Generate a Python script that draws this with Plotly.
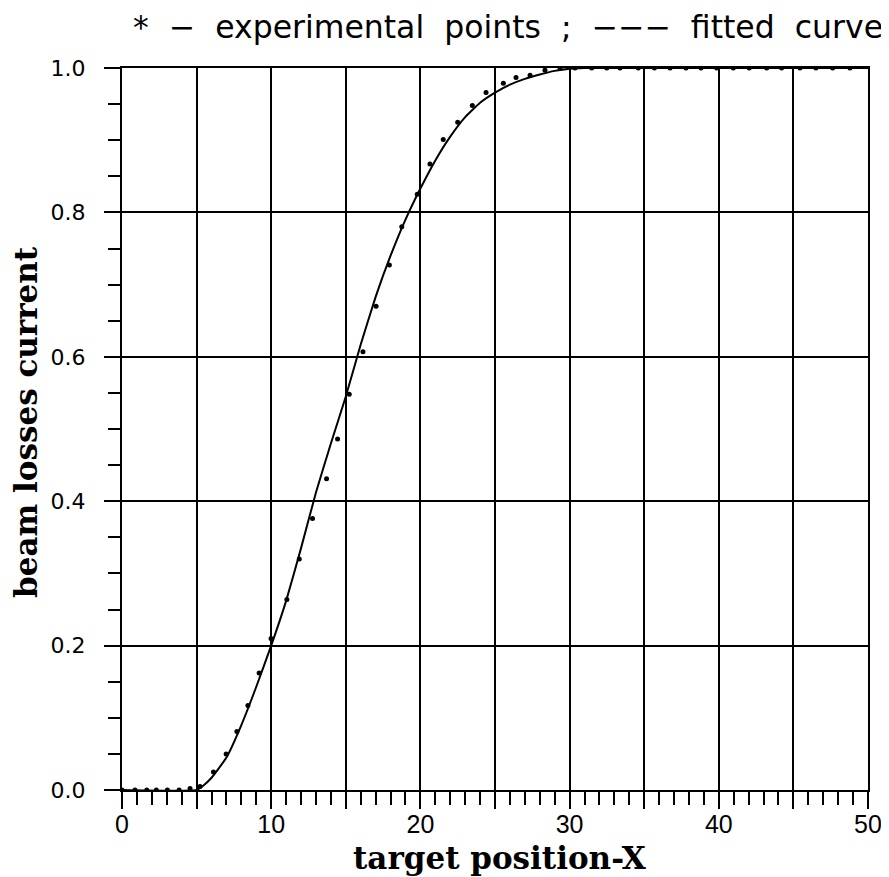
import plotly.graph_objects as go

# experimental points
exp_x = [0, 0.87, 1.66, 2.3, 3.04, 3.83, 4.56, 5.23,
         6.13, 6.98, 7.70, 8.44, 9.19, 9.99, 11.05,
         11.88, 12.77, 13.71, 14.45, 15.23, 16.15, 17.03, 17.92,
         18.75, 19.79, 20.64, 21.53, 22.50, 23.48, 24.40, 25.56, 26.41, 27.35, 28.35, 29.36, 30.36,
         31.48, 32.49, 33.38, 34.60, 35.68, 36.73, 37.80, 38.81, 39.86, 40.97, 42.04, 43.21,
         44.21, 45.44, 46.51, 47.63, 48.79]
exp_y = [0.0, 0.0, 0.0, 0.0, 0.0, 0.0, 0.002, 0.005,
         0.025, 0.050, 0.081, 0.117, 0.162, 0.210, 0.264,
         0.320, 0.376, 0.431, 0.486, 0.548, 0.607, 0.670, 0.727,
         0.780, 0.825, 0.867, 0.901, 0.925, 0.948, 0.966, 0.979, 0.987, 0.990, 0.997, 1.0, 1.0,
         1.0, 1.0, 1.0, 1.0, 1.0, 1.0, 1.0, 1.0, 1.0, 1.0, 1.0, 1.0,
         1.0, 1.0, 1.0, 1.0, 1.0]

# fitted curve
fit_x = [0, 5, 5.5, 6, 7, 8, 9, 10, 11, 12, 13, 14, 15, 16, 17, 18, 19, 20,
         21, 22, 23, 24, 25, 26, 27, 28, 29, 30, 31, 50]
fit_y = [0, 0, 0.007, 0.017, 0.045, 0.090, 0.143, 0.200, 0.262, 0.335, 0.412, 0.480,
         0.545, 0.617, 0.683, 0.740, 0.790, 0.833, 0.872, 0.905, 0.932, 0.952, 0.966,
         0.977, 0.985, 0.991, 0.996, 0.999, 1.0, 1.0]

x_tickvals = [0, 5, 10, 15, 20, 25, 30, 35, 40, 45, 50]
x_ticktext = ["0", "", "10", "", "20", "", "30", "", "40", "", "50"]
y_tickvals = [0.0, 0.2, 0.4, 0.6, 0.8, 1.0]
y_ticktext = ["0.0", "0.2", "0.4", "0.6", "0.8", "1.0"]

title_text = "*  \u2212  experimental  points  ;  \u2212\u2212\u2212  fitted  curve"
x_title = "target position-X"
y_title = "beam losses current"

# the page body has an 8px default margin; the figure is sized to fit inside it
OFF = 8
W, H = 889 - OFF, 877 - OFF
L, T = 122 - OFF, 68 - OFF
PW, PH = 746, 722

fig = go.Figure()
fig.add_trace(go.Scatter(x=fit_x, y=fit_y, mode="lines",
                         line=dict(color="black", width=2, shape="spline", smoothing=0.4),
                         showlegend=False, hoverinfo="skip"))
fig.add_trace(go.Scatter(x=exp_x, y=exp_y, mode="markers",
                         marker=dict(color="black", size=5, symbol="circle"),
                         showlegend=False))

fig.update_layout(
    width=W, height=H,
    margin=dict(l=L, r=W - L - PW, t=T, b=H - T - PH, autoexpand=False),
    paper_bgcolor="white", plot_bgcolor="white",
    xaxis=dict(range=[0, 50], tickmode="array", tickvals=x_tickvals, ticktext=x_ticktext,
               showgrid=True, gridcolor="black", gridwidth=1.5,
               showline=True, linecolor="black", linewidth=2, mirror=True,
               ticks="outside", ticklen=17, tickwidth=2, tickcolor="black",
               tickfont=dict(family="Liberation Sans", size=25, color="black"),
               minor=dict(tickmode="linear", tick0=0, dtick=1, ticks="outside", ticklen=13,
                          tickwidth=1.5, tickcolor="black", showgrid=False),
               zeroline=False, fixedrange=True, automargin=False),
    yaxis=dict(range=[0, 1], tickmode="array", tickvals=y_tickvals, ticktext=y_ticktext,
               showgrid=True, gridcolor="black", gridwidth=1.5,
               showline=True, linecolor="black", linewidth=2, mirror=True,
               ticks="outside", ticklen=16, tickwidth=2, tickcolor="black",
               tickfont=dict(family="DejaVu Sans", size=22, color="black"),
               ticklabelstandoff=14,
               minor=dict(tickmode="linear", tick0=0, dtick=0.05, ticks="outside", ticklen=12,
                          tickwidth=1.5, tickcolor="black", showgrid=False),
               zeroline=False, fixedrange=True, automargin=False),
    annotations=[
        dict(text=title_text, xref="paper", yref="paper", x=(885 - 122) / PW, y=1 + (68 - 27) / PH,
             xanchor="right", yanchor="middle", showarrow=False,
             font=dict(family="DejaVu Sans", size=31.5, color="black")),
        dict(text="<b>" + x_title + "</b>", xref="paper", yref="paper", x=(500 - 122) / PW,
             y=-(858 - 790) / PH, xanchor="center", yanchor="middle", showarrow=False,
             font=dict(family="DejaVu Serif", size=31, color="black")),
        dict(text="<b>" + y_title + "</b>", xref="paper", yref="paper", x=(26 - 122) / PW,
             y=(790 - 422) / PH, xanchor="center", yanchor="middle", showarrow=False, textangle=-90,
             font=dict(family="DejaVu Serif", size=31, color="black")),
    ],
)

try:
    fig.update_xaxes(ticklabelstandoff=-6)
except Exception:
    pass

fig.write_html("out.html")
